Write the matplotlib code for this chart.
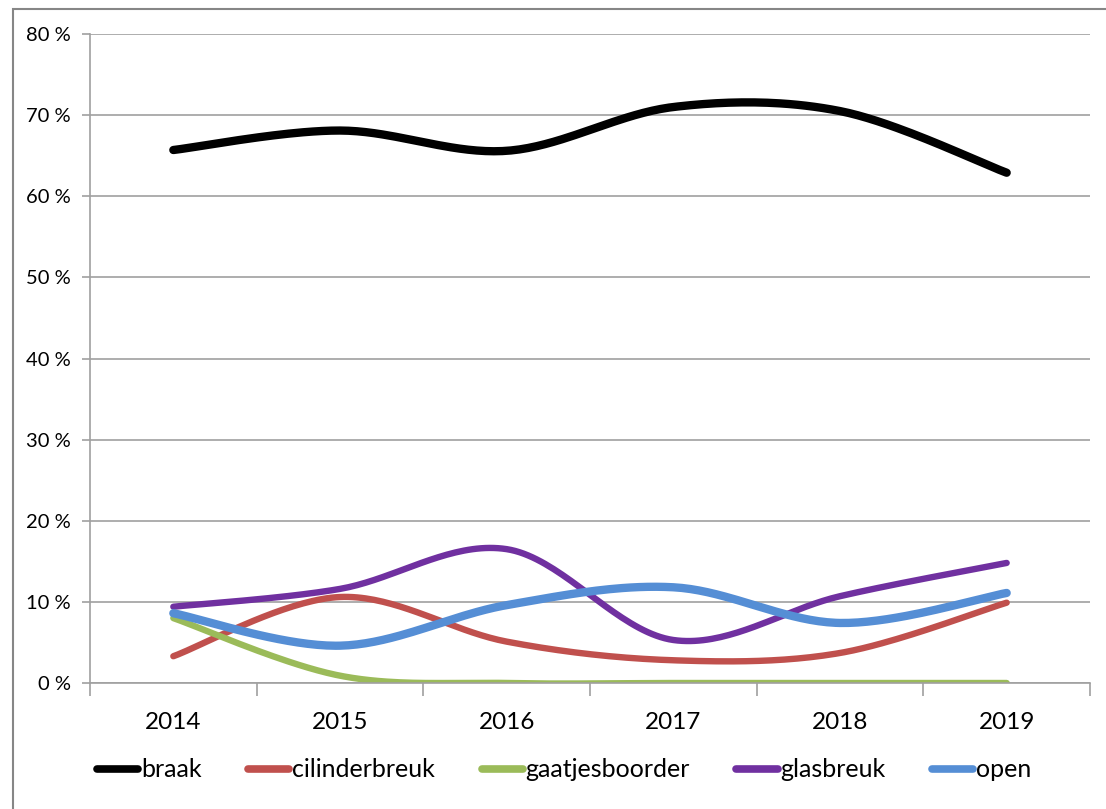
import numpy as np
import matplotlib.pyplot as plt
from matplotlib.ticker import FuncFormatter

years = ['2014', '2015', '2016', '2017', '2018', '2019']
braak = [65.7, 68.1, 65.6, 71.0, 70.5, 62.9]
cilinderbreuk = [3.3, 10.6, 5.1, 2.8, 3.7, 9.9]
gaatjesboorder = [8.0, 0.9, 0.0, 0.0, 0.0, 0.0]
glasbreuk = [9.4, 11.6, 16.5, 5.3, 10.7, 14.8]
open_ = [8.6, 4.6, 9.6, 11.8, 7.4, 11.1]

series = [('braak', braak, '#000000', 6.0),
          ('cilinderbreuk', cilinderbreuk, '#C0504D', 4.6),
          ('gaatjesboorder', gaatjesboorder, '#9BBB59', 4.6),
          ('glasbreuk', glasbreuk, '#7030A0', 4.6),
          ('open', open_, '#558ED5', 6.0)]

plt.rcParams['font.family'] = ['Lato', 'DejaVu Sans']


def smooth(x, y, n=40):
    # Excel style smoothed line: cubic bezier through the points
    x = np.asarray(x, float)
    y = np.asarray(y, float)
    px = np.concatenate([[x[0]], x, [x[-1]]])
    py = np.concatenate([[y[0]], y, [y[-1]]])
    xs, ys = [], []
    t = np.linspace(0, 1, n)
    for i in range(1, len(px) - 2):
        p0 = np.array([px[i], py[i]])
        p3 = np.array([px[i + 1], py[i + 1]])
        c1 = p0 + (np.array([px[i + 1], py[i + 1]]) - np.array([px[i - 1], py[i - 1]])) / 6
        c2 = p3 - (np.array([px[i + 2], py[i + 2]]) - np.array([px[i], py[i]])) / 6
        b = ((1 - t) ** 3)[:, None] * p0 + (3 * (1 - t) ** 2 * t)[:, None] * c1 \
            + (3 * (1 - t) * t ** 2)[:, None] * c2 + (t ** 3)[:, None] * p3
        xs.extend(b[:, 0])
        ys.extend(b[:, 1])
    return np.array(xs), np.array(ys)


fig = plt.figure(figsize=(11.06, 8.09), dpi=100)
# outer chart border
fig.add_artist(plt.Rectangle((13 / 1106, -0.01), 1.1, (809 - 9) / 809 + 0.01,
                             transform=fig.transFigure, fill=False,
                             edgecolor='#868686', linewidth=1.5))
ax = fig.add_axes([90 / 1106, 126 / 809, 1000 / 1106, 649 / 809])

xpos = np.arange(len(years))
for name, vals, col, lw in series:
    sx, sy = smooth(xpos, vals)
    ax.plot(sx, sy, color=col, lw=lw, solid_capstyle='round', label=name)

ax.set_xlim(-0.5, 5.5)
ax.set_ylim(0, 80)
ax.set_yticks(np.arange(0, 81, 10))
ax.yaxis.set_major_formatter(FuncFormatter(lambda v, p: '%d %%' % v))
ax.grid(axis='y', color='#A0A0A0', lw=1.2)
ax.set_axisbelow(True)

ax.set_xticks(xpos)
ax.set_xticklabels(years)
ax.set_xticks(np.arange(-0.5, 6, 1), minor=True)
ax.tick_params(axis='x', which='major', length=0, pad=21, labelsize=17.5)
ax.tick_params(axis='x', which='minor', length=9, color='#A0A0A0', width=1.2)
ax.tick_params(axis='y', length=6, color='#A0A0A0', width=1.2, labelsize=14.5, pad=8)

for s in ['top', 'right']:
    ax.spines[s].set_visible(False)
for s in ['left', 'bottom']:
    ax.spines[s].set_color('#A0A0A0')
    ax.spines[s].set_linewidth(1.2)

leg = ax.legend(loc='upper left', bbox_to_anchor=(0.007, -0.116), ncol=5, frameon=False,
                fontsize=18, handlelength=1.65, handletextpad=0.12, columnspacing=1.85,
                borderaxespad=0, borderpad=0)
for h in leg.get_lines():
    h.set_linewidth(5.5)
    h.set_solid_capstyle('round')

plt.savefig('out.png', dpi=100)
